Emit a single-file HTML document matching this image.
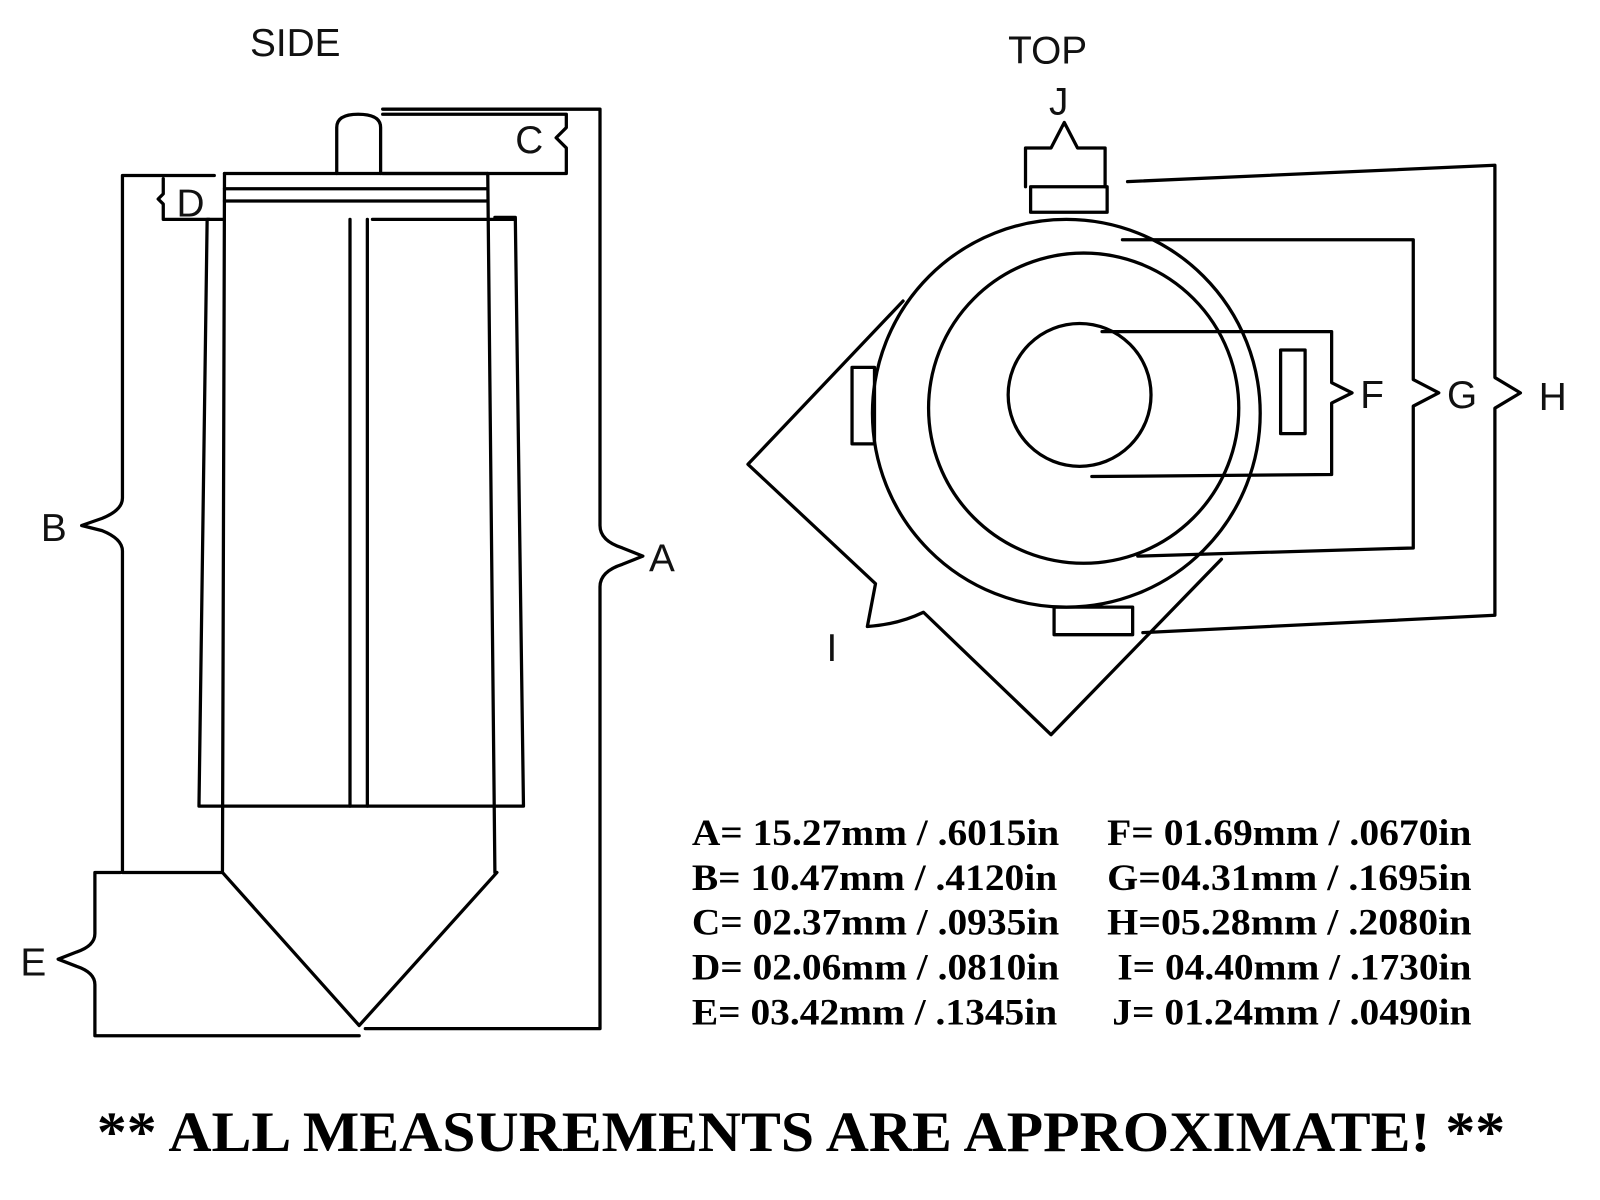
<!DOCTYPE html>
<html><head><meta charset="utf-8"><style>
html,body{margin:0;padding:0;background:#fff;width:1600px;height:1200px;overflow:hidden}
svg{display:block}
.l{fill:none;stroke:#000;stroke-width:3.2;stroke-linejoin:round;stroke-linecap:round}
.h{font-family:"Liberation Sans",sans-serif;font-size:38px;fill:#111}
.t{font-family:"Liberation Serif",serif;font-weight:bold;font-size:36px;fill:#000}
</style></head><body>
<svg width="1600" height="1200" viewBox="0 0 1568 1176" preserveAspectRatio="none">
<g class="l">
<path d="M330,170 L330,125 Q330,112 351,112 Q373,112 373,125 L373,170"/>
<path d="M220,170 L478,170 M220,185 L478,185 M220,197 L478,197"/>
<path d="M220,170 L218,855 M478,170 L485,855"/>
<path d="M203,215 L218,215 M485,213 L505,213 M203,215 L195,790 L513,790 L505,213"/>
<path d="M343,215 L343,790 M360,215 L360,790 M365,215 L505,215"/>
<path d="M218,855 L352,1005 L487,855"/>
<path d="M120,855 L218,855 M120,855 L120,540 Q120,528 100,520 L80,515 L100,508 Q120,500 120,488 L120,172 L210,172"/>
<path d="M160,175 L160,190 L155,195 L160,200 L160,215 L205,215"/>
<path d="M375,107 L588,107 L588,515 Q588,530 610,537 L630,545 L610,553 Q588,560 588,575 L588,1008 L358,1008"/>
<path d="M375,112 L555,112 L555,125 L545,135 L555,145 L555,170 L375,170"/>
<path d="M118,855 L93,855 L93,915 Q93,927 75,933 L57,940 L75,947 Q93,953 93,965 L93,1015 L352,1015"/>
<circle cx="1045" cy="405" r="190"/>
<circle cx="1062" cy="400" r="152"/>
<circle cx="1058" cy="387" r="70"/>
<path d="M885,295 L733,455 L858,572 L850,614 Q880,612 905,600 L1030,720 L1197,548"/>
<rect x="835" y="360" width="22" height="75"/>
<rect x="1255" y="343" width="24" height="82"/>
<rect x="1010" y="183" width="75" height="25"/>
<rect x="1033" y="595" width="77" height="27"/>
<path d="M1005,183 L1005,145 L1030,145 L1043,120 L1056,145 L1083,145 L1083,183"/>
<path d="M1080,325 L1305,325 L1305,375 L1325,385 L1305,395 L1305,465 L1070,467"/>
<path d="M1100,235 L1385,235 L1385,372 L1410,385 L1385,398 L1385,537 L1115,545"/>
<path d="M1105,178 L1465,162 L1465,370 L1490,385 L1465,400 L1465,603 L1120,620"/>
</g>
<text class="h" x="245" y="55">SIDE</text>
<text class="h" x="988" y="62">TOP</text>
<text class="h" x="1028" y="112">J</text>
<text class="h" x="505" y="150">C</text>
<text class="h" x="173" y="212">D</text>
<text class="h" x="40" y="530">B</text>
<text class="h" x="636" y="560">A</text>
<text class="h" x="20" y="956">E</text>
<text class="h" x="1333" y="400">F</text>
<text class="h" x="1418" y="400">G</text>
<text class="h" x="1508" y="402">H</text>
<text class="h" x="810" y="648">I</text>
<text class="t" x="678" y="828" textLength="360" lengthAdjust="spacingAndGlyphs">A= 15.27mm / .6015in</text>
<text class="t" x="678" y="872" textLength="358" lengthAdjust="spacingAndGlyphs">B= 10.47mm / .4120in</text>
<text class="t" x="678" y="916" textLength="360" lengthAdjust="spacingAndGlyphs">C= 02.37mm / .0935in</text>
<text class="t" x="678" y="960" textLength="360" lengthAdjust="spacingAndGlyphs">D= 02.06mm / .0810in</text>
<text class="t" x="678" y="1004" textLength="358" lengthAdjust="spacingAndGlyphs">E= 03.42mm / .1345in</text>
<text class="t" x="1085" y="828" textLength="357" lengthAdjust="spacingAndGlyphs">F= 01.69mm / .0670in</text>
<text class="t" x="1085" y="872" textLength="357" lengthAdjust="spacingAndGlyphs">G=04.31mm / .1695in</text>
<text class="t" x="1085" y="916" textLength="357" lengthAdjust="spacingAndGlyphs">H=05.28mm / .2080in</text>
<text class="t" x="1095" y="960" textLength="347" lengthAdjust="spacingAndGlyphs">I= 04.40mm / .1730in</text>
<text class="t" x="1090" y="1004" textLength="352" lengthAdjust="spacingAndGlyphs">J= 01.24mm / .0490in</text>
<text class="t" x="95" y="1128" textLength="1380" lengthAdjust="spacingAndGlyphs" style="font-size:56px">** ALL MEASUREMENTS ARE APPROXIMATE! **</text>
</svg>
</body></html>
